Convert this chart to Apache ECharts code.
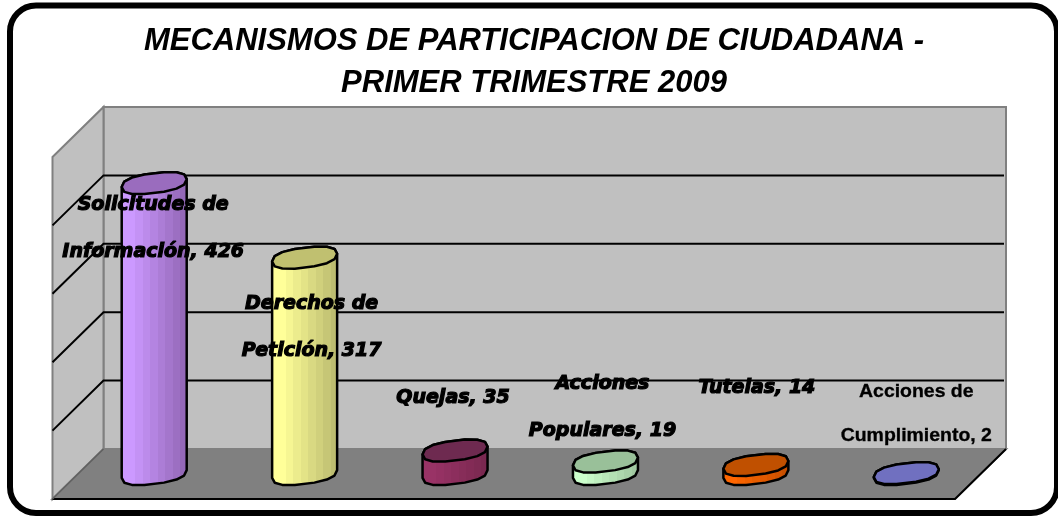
<!DOCTYPE html>
<html>
<head>
<meta charset="utf-8">
<style>html,body{margin:0;padding:0;background:#fff}#c{width:1058px;height:516px}</style>
<script src="https://cdn.jsdelivr.net/npm/echarts@6/dist/echarts.min.js"></script>
</head>
<body>
<div id="c"></div>
<script>
const titleText = 'MECANISMOS DE PARTICIPACION DE CIUDADANA -\nPRIMER TRIMESTRE 2009';
const categories = ['Solicitudes de Información', 'Derechos de Petición', 'Quejas', 'Acciones Populares', 'Tutelas', 'Acciones de Cumplimiento'];
const values = [426, 317, 35, 19, 14, 2];
const labelLines = [
  ['Solicitudes de', 'Información, 426'],
  ['Derechos de', 'Petición, 317'],
  ['Quejas, 35'],
  ['Acciones', 'Populares, 19'],
  ['Tutelas, 14'],
  ['Acciones de', 'Cumplimiento, 2']
];
const ticks = [0, 100, 200, 300, 400, 500];

// styling, kept apart from the data
const lightColors = ['#CC99FF', '#FFFF99', '#993366', '#CCFFCC', '#FF6600', '#7C7CD0'];
const darkColors  = ['#9468B8', '#BDBD70', '#7A2850', '#A0C8A0', '#C85000', '#6666B0'];
const capColors   = ['#9A6CBE', '#C0C070', '#6E2A50', '#99C099', '#C05000', '#7070C0'];
const labelAnchor = [[0, 205], [8, 304], [-1, 398], [-2, 384], [2, 388], [11, 392]];
const labelGap = 47;
const labelStretch = [1, 1, 1, 1, 1, 1.08];
const DX = 25.5, DY = 25, RX = 32.5, RY = 10, SHEAR = 0.12;

function ring(cx, cy) {
  const pts = [];
  const n = 14;
  for (let i = 0; i < n; i++) {
    const t = i / n * Math.PI * 2;
    const c = Math.cos(t), s = Math.sin(t);
    const px = Math.sign(c) * Math.pow(Math.abs(c), 0.8);
    const py = Math.sign(s) * Math.pow(Math.abs(s), 0.8);
    const x = RX * px;
    pts.push([cx + x, cy + RY * py - SHEAR * x]);
  }
  return pts;
}
function bandFill(light, dark) {
  const toRgb = h => [1, 3, 5].map(i => parseInt(h.substr(i, 2), 16));
  const a = toRgb(light), b = toRgb(dark);
  const stops = [];
  const n = 9;
  for (let i = 0; i < n; i++) {
    const f = i < 2 ? 0 : (i - 1) / (n - 2);
    const col = 'rgb(' + a.map((v, k) => Math.round(v + (b[k] - v) * f)).join(',') + ')';
    stops.push({ offset: i / n, color: col }, { offset: (i + 1) / n, color: col });
  }
  return { type: 'linear', x: 0, y: 0, x2: 1, y2: 0, colorStops: stops };
}

const chart = echarts.init(document.getElementById('c'), null, { renderer: 'canvas' });
chart.setOption({
  animation: false,
  backgroundColor: '#fff',
  title: {
    text: titleText,
    left: 534,
    top: 20,
    padding: 0,
    textAlign: 'center',
    textStyle: { fontFamily: 'Liberation Sans', fontWeight: 'bold', fontStyle: 'italic', fontSize: 31, lineHeight: 42, color: '#000' }
  },
  grid: { left: 78, top: 132, width: 902.5, height: 342 },
  xAxis: { type: 'category', data: categories, show: false },
  yAxis: { type: 'value', min: 0, max: 500, interval: 100, show: false },
  graphic: [{
    type: 'rect', silent: true, z: 100,
    shape: { x: 10, y: 5.5, width: 1047, height: 507.5, r: 26 },
    style: { fill: 'none', stroke: '#000', lineWidth: 6 }
  }],
  series: [
    {
      type: 'custom', coordinateSystem: 'cartesian2d', silent: true, z: 1,
      data: ticks.map(v => [0, v]),
      renderItem(params, api) {
        const g = params.coordSys;
        const v = api.value(1);
        const y = api.coord([0, v])[1];
        const l = g.x, r = g.x + g.width;
        const y0 = api.coord([0, 0])[1], yT = api.coord([0, 500])[1];
        const kids = [];
        if (v === 0) {
          // back wall, left wall, floor
          kids.push({ type: 'polygon', shape: { points: [[l + DX, yT - DY], [r + DX, yT - DY], [r + DX, y0 - DY], [l + DX, y0 - DY]] },
            style: { fill: '#C0C0C0', stroke: '#808080', lineWidth: 2 } });
          kids.push({ type: 'polygon', shape: { points: [[l - DX, yT + DY], [l + DX, yT - DY], [l + DX, y0 - DY], [l - DX, y0 + DY]] },
            style: { fill: '#C0C0C0', stroke: '#808080', lineWidth: 2 } });
          kids.push({ type: 'polygon', shape: { points: [[l + DX, y0 - DY], [r + DX, y0 - DY], [r - DX, y0 + DY], [l - DX, y0 + DY]] },
            style: { fill: '#808080', stroke: '#808080', lineWidth: 2 } });
          kids.push({ type: 'polyline', shape: { points: [[r + DX, y0 - DY], [r - DX, y0 + DY], [l - DX, y0 + DY]] },
            style: { fill: 'none', stroke: '#000', lineWidth: 2 } });
          kids.push({ type: 'line', shape: { x1: l + DX, y1: y0 - DY, x2: l - DX, y2: y0 + DY },
            style: { stroke: '#606060', lineWidth: 1.5 } });
        } else if (v < 500) {
          kids.push({ type: 'polyline', shape: { points: [[l - DX, y + DY], [l + DX, y - DY], [r + DX - 2, y - DY]] },
            style: { fill: 'none', stroke: '#000', lineWidth: 2 } });
        }
        return { type: 'group', children: kids };
      }
    },
    {
      type: 'custom', coordinateSystem: 'cartesian2d', silent: true, z: 2,
      data: values.map((v, i) => [i, v]),
      renderItem(params, api) {
        const i = params.dataIndex;
        const top = api.coord([i, api.value(1)]);
        const base = api.coord([i, 0]);
        const cx = base[0] + 1;
        const kids = [];
        const low = ring(cx, base[1]);
        const up = ring(cx, top[1] + 0.5);
        // side: lower half of base ring, then upper half of the top ring
        const n = low.length;
        const side = [];
        for (let k = 0; k <= n / 2; k++) side.push(low[k]);
        for (let k = n / 2; k <= n; k++) side.push(up[k % n]);
        kids.push({ type: 'polygon', shape: { points: side },
          style: { fill: bandFill(lightColors[i], darkColors[i]), stroke: '#000', lineWidth: 2.5, lineJoin: 'round' } });
        kids.push({ type: 'polygon', shape: { points: up },
          style: { fill: capColors[i], stroke: '#000', lineWidth: 2.5, lineJoin: 'round' } });
        return { type: 'group', children: kids };
      }
    },
    {
      type: 'custom', coordinateSystem: 'cartesian2d', silent: true, z: 3,
      data: values.map((v, i) => [i, v]),
      renderItem(params, api) {
        const i = params.dataIndex;
        const x = api.coord([i, 0])[0] + labelAnchor[i][0];
        const plain = i === 5;
        const kids = labelLines[i].map((t, k) => ({
          type: 'text',
          x: x, y: labelAnchor[i][1] + k * (plain ? 44 : labelGap),
          scaleX: labelStretch[i], scaleY: 1,
          style: {
            text: t, x: 0, y: 0, align: 'center', verticalAlign: 'middle',
            font: plain ? 'bold 18px "Liberation Sans"' : 'italic bold 19px "DejaVu Sans"',
            fill: '#000',
            stroke: '#000', lineWidth: plain ? 0.3 : 1.2
          }
        }));
        return { type: 'group', children: kids };
      }
    }
  ]
});
</script>
</body>
</html>
